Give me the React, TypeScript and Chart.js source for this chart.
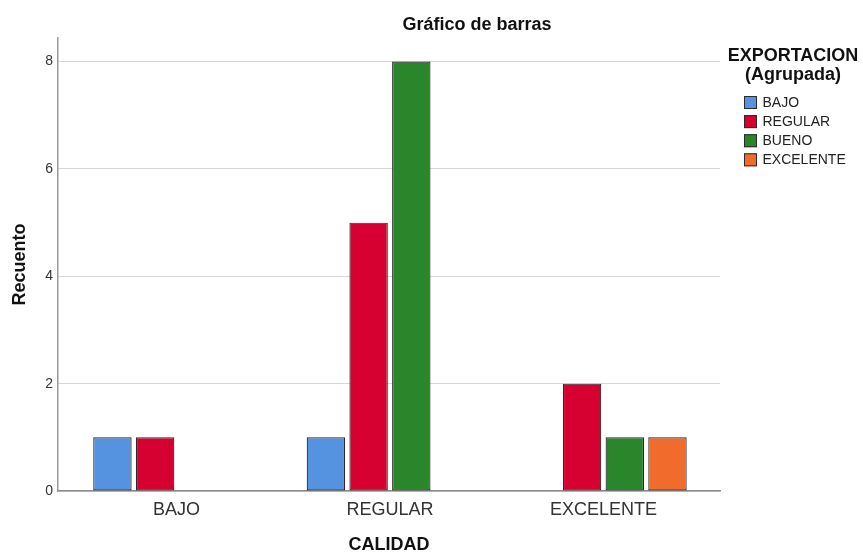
import React, { useEffect, useRef } from 'react';
import { Chart, registerables } from 'chart.js';

Chart.register(...registerables);

const FONT = "'Liberation Sans', Arial, sans-serif";

const categories = ['BAJO', 'REGULAR', 'EXCELENTE'];
const seriesNames = ['BAJO', 'REGULAR', 'BUENO', 'EXCELENTE'];
const seriesBajo = [1, 1, null];
const seriesRegular = [1, 5, 2];
const seriesBueno = [null, 8, 1];
const seriesExcelente = [null, null, 1];
const seriesColors = ['#5592e0', '#d60031', '#2a862a', '#f16c2c'];
const yTickValues = [0, 2, 4, 6, 8];
const chartTitle = 'Gráfico de barras';
const legendTitle = ['EXPORTACION', '(Agrupada)'];
const xTitle = 'CALIDAD';
const yTitle = 'Recuento';

const allSeries = [seriesBajo, seriesRegular, seriesBueno, seriesExcelente];

const decorPlugin = {
  id: 'decor',
  afterDraw(chart: any) {
    const ctx = chart.ctx;
    const area = chart.chartArea;
    ctx.save();
    ctx.fillStyle = '#111';
    ctx.textBaseline = 'middle';
    ctx.textAlign = 'center';
    ctx.font = `bold 18px ${FONT}`;
    ctx.fillText(chartTitle, 477, 25);
    const lx = area.right + 73;
    ctx.fillText(legendTitle[0], lx, 56);
    ctx.fillText(legendTitle[1], lx, 75);
    ctx.font = `14px ${FONT}`;
    ctx.textAlign = 'left';
    chart.data.datasets.forEach((ds: any, i: number) => {
      const y = 102.5 + i * 19.1;
      const bx = area.right + 24;
      ctx.fillStyle = ds.backgroundColor;
      ctx.fillRect(bx, y - 6.5, 13, 13);
      ctx.strokeStyle = '#2b2b2b';
      ctx.lineWidth = 1;
      ctx.strokeRect(bx + 0.5, y - 6, 12, 12);
      ctx.fillStyle = '#222';
      ctx.fillText(ds.label, bx + 18.5, y + 0.5);
    });
    ctx.restore();
  },
};

export default function App() {
  const ref = useRef<HTMLCanvasElement | null>(null);
  useEffect(() => {
    if (!ref.current) return;
    const datasets = allSeries.map((values, si) => ({
      label: seriesNames[si],
      data: values
        .map((v, i) => (v === null ? null : { x: i, y: v }))
        .filter((p) => p !== null),
      backgroundColor: seriesColors[si],
      borderColor: '#2b2b2b',
      borderWidth: 1.2,
      borderSkipped: false,
      categoryPercentage: 0.8,
      barPercentage: 0.9,
    }));
    const chart = new Chart(ref.current, {
      type: 'bar',
      data: { datasets: datasets as any },
      plugins: [decorPlugin],
      options: {
        animation: false,
        responsive: true,
        maintainAspectRatio: false,
        layout: { padding: { top: 38, right: 143, left: 0, bottom: 0 } },
        plugins: {
          legend: { display: false },
          title: { display: false },
          tooltip: { enabled: false },
        },
        scales: {
          x: {
            type: 'linear',
            min: -0.555,
            max: 2.546,
            offset: false,
            afterFit: (s: any) => {
              s.height = 63;
            },
            afterBuildTicks: (s: any) => {
              s.ticks = categories.map((_, i) => ({ value: i }));
            },
            grid: { display: false, offset: false, drawTicks: false },
            border: { display: true, color: '#8c8c8c', width: 1.5 },
            ticks: {
              padding: 8,
              color: '#333333',
              font: { family: FONT, size: 18 },
              maxRotation: 0,
              callback: (v: any) => categories[v as number] ?? '',
            },
            title: {
              display: true,
              text: xTitle,
              color: '#111111',
              font: { family: FONT, size: 18, weight: 'bold', lineHeight: 1 },
              padding: { top: 0, bottom: 0 },
            },
          },
          y: {
            type: 'linear',
            min: 0,
            max: 8.44,
            afterFit: (s: any) => {
              s.width = 58;
            },
            afterBuildTicks: (s: any) => {
              s.ticks = yTickValues.map((v) => ({ value: v }));
            },
            grid: { display: true, color: '#d6d6d6', lineWidth: 1, drawTicks: false },
            border: { display: true, color: '#999999', width: 1.5 },
            ticks: {
              padding: 5,
              color: '#333333',
              font: { family: FONT, size: 14 },
            },
            title: {
              display: true,
              text: yTitle,
              color: '#111111',
              font: { family: FONT, size: 18, weight: 'bold', lineHeight: 1 },
              padding: { top: 11.5, bottom: 0 },
            },
          },
        },
      } as any,
    });
    return () => chart.destroy();
  }, []);
  return (
    <div style={{ position: 'absolute', left: 0, top: 0, width: 863, height: 554, background: '#fff' }}>
      <canvas ref={ref} />
    </div>
  );
}
